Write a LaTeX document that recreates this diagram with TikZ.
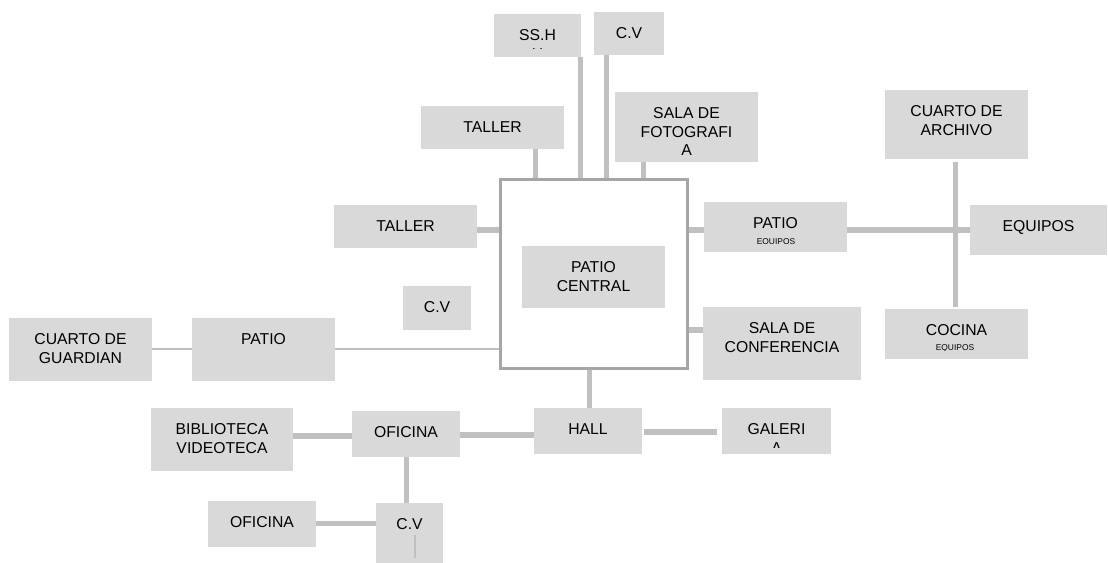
\documentclass[tikz,border=0pt]{standalone}
\usepackage{fontspec}
\setmainfont{Liberation Sans}
\definecolor{caja}{HTML}{D9D9D9}
\definecolor{linea}{HTML}{C0C0C0}
\definecolor{borde}{HTML}{A6A6A6}
\tikzset{
    sala/.style 2 args={fill=caja, inner sep=0, minimum width=#1*0.025cm, minimum height=#2*0.025cm},
    rotulo/.style={anchor=north, inner sep=0, align=center, yshift=-0.395cm, font=\fontsize{11.2}{13}\selectfont},
    mini/.style={inner sep=0, font=\fontsize{6}{7}\selectfont},
    conexion/.style={draw=linea, line width=3.56pt},
    fina/.style={draw=linea, line width=1.42pt}
}
\begin{document}
\begin{tikzpicture}[x=0.025cm, y=-0.025cm]
            \useasboundingbox (0, 0) rectangle (1108, 563);

            \node[sala={87}{43}] (ssh) at (537.5, 35.5) {};
            \node[sala={70}{43}] (cvsup) at (629, 33.5) {};
            \node[sala={143}{43}] (tallersup) at (492.5, 127.5) {};
            \node[sala={143}{70}] (salafoto) at (686.5, 127) {};
            \node[sala={143}{43}] (tallerizq) at (405.5, 226.5) {};
            \node[sala={143}{62}] (patiocentral) at (593.5, 277) {};
            \node[sala={68}{44}] (cvmed) at (437, 308) {};
            \node[sala={143}{63}] (guardian) at (80.5, 349.5) {};
            \node[sala={143}{63}] (patioizq) at (263.5, 349.5) {};
            \node[sala={143}{50}] (patioder) at (775.5, 227) {};
            \node[sala={158}{73}] (salaconf) at (782, 343.5) {};
            \node[sala={143}{69}] (archivo) at (956.5, 124.5) {};
            \node[sala={137}{50}] (equipos) at (1038.5, 230) {};
            \node[sala={143}{50}] (cocina) at (956.5, 334) {};
            \node[sala={142}{63}] (biblio) at (222, 439.5) {};
            \node[sala={108}{46}] (oficina) at (406, 434) {};
            \node[sala={108}{46}] (hall) at (588, 431) {};
            \node[sala={109}{46}] (galeria) at (776.5, 431) {};
            \node[sala={108}{46}] (oficinainf) at (262, 524) {};
            \node[sala={67}{60}] (cvinf) at (409.5, 533) {};

            \begin{scope}
                \clip (494, 14) rectangle (581, 49);
                \node[rotulo] (ssh-t) at (ssh.north) {SS.H\\H};
            \end{scope}
            \node[rotulo] (cvsup-t) at (cvsup.north) {C.V};
            \node[rotulo] (tallersup-t) at (tallersup.north) {TALLER};
            \node[rotulo] (salafoto-t) at (salafoto.north) {SALA DE\\FOTOGRAFI\\A};
            \node[rotulo] (tallerizq-t) at (tallerizq.north) {TALLER};
            \node[rotulo] (patiocentral-t) at (patiocentral.north) {PATIO\\CENTRAL};
            \node[rotulo] (cvmed-t) at (cvmed.north) {C.V};
            \node[rotulo] (guardian-t) at (guardian.north) {CUARTO DE\\GUARDIAN};
            \node[rotulo] (patioizq-t) at (patioizq.north) {PATIO};
            \node[rotulo] (patioder-t) at (patioder.north) {PATIO};
            \begin{scope}
                \clip (704, 202) rectangle (847, 244);
                \node[mini] (patioder-m) at (776, 242.5) {EQUIPOS};
            \end{scope}
            \node[rotulo] (salaconf-t) at (salaconf.north) {SALA DE\\CONFERENCIA};
            \node[rotulo] (archivo-t) at (archivo.north) {CUARTO DE\\ARCHIVO};
            \node[rotulo] (equipos-t) at (equipos.north) {EQUIPOS};
            \node[rotulo] (cocina-t) at (cocina.north) {COCINA};
            \begin{scope}
                \clip (885, 309) rectangle (1028, 350);
                \node[mini] (cocina-m) at (955, 348.5) {EQUIPOS};
            \end{scope}
            \node[rotulo] (biblio-t) at (biblio.north) {BIBLIOTECA\\VIDEOTECA};
            \node[rotulo] (oficina-t) at (oficina.north) {OFICINA};
            \node[rotulo] (hall-t) at (hall.north) {HALL};
            \begin{scope}
                \clip (722, 408) rectangle (831, 447);
                \node[rotulo] (galeria-t) at (galeria.north) {GALERI\\A};
            \end{scope}
            \node[rotulo] (oficinainf-t) at (oficinainf.north) {OFICINA};
            \node[rotulo] (cvinf-t) at (cvinf.north) {C.V};

            \coordinate (m1) at (535, 180);
            \coordinate (m2) at (580, 180);
            \coordinate (m3) at (606, 180);
            \coordinate (m4) at (643, 180);
            \coordinate (m5) at (500, 230);
            \coordinate (m6) at (500, 349);
            \coordinate (m7) at (688, 230);
            \coordinate (m8) at (688, 330);
            \coordinate (m9) at (589, 369);
            \coordinate (e1) at (955, 230);
            \coordinate (h1) at (300, 436);
            \coordinate (h2) at (500, 435);
            \coordinate (h3) at (680, 432);
            \coordinate (h4) at (340, 523);
            \coordinate (v1) at (406, 480);
            \coordinate (cursor) at (415, 535);

            \draw[conexion] (tallersup.south -| m1) to (m1);
            \draw[conexion] (ssh.south -| m2) to (m2);
            \draw[conexion] (cvsup.south -| m3) to (m3);
            \draw[conexion] (salafoto.south -| m4) to (m4);
            \draw[conexion] (tallerizq.east |- m5) to (m5);
            \draw[fina] (patioizq.east |- m6) to (m6);
            \draw[fina] (guardian.east |- m6) to (patioizq.west |- m6);
            \draw[conexion] (m7) to (patioder.west |- m7);
            \draw[conexion] (m8) to (salaconf.west |- m8);
            \draw[conexion] (patioder.east |- m7) to (equipos.west |- m7);
            \draw[conexion, shorten <=0.075cm, shorten >=0.05cm] (archivo.south -| e1) to (cocina.north -| e1);
            \draw[conexion] (m9) to (hall.north -| m9);
            \draw[conexion] (biblio.east |- h1) to (oficina.west |- h1);
            \draw[conexion] (oficina.east |- h2) to (hall.west |- h2);
            \draw[conexion, shorten <=0.05cm, shorten >=0.125cm] (hall.east |- h3) to (galeria.west |- h3);
            \draw[conexion] (oficina.south -| v1) to (cvinf.north -| v1);
            \draw[conexion] (oficinainf.east |- h4) to (cvinf.west |- h4);
            \draw[draw=linea, line width=1.07pt] (cursor) to ++(0, 23);

            \node[draw=borde, line width=2.13pt, inner sep=0, minimum width=4.69cm, minimum height=4.71cm] (marco) at (594, 274) {};
        \end{tikzpicture}
\end{document}
